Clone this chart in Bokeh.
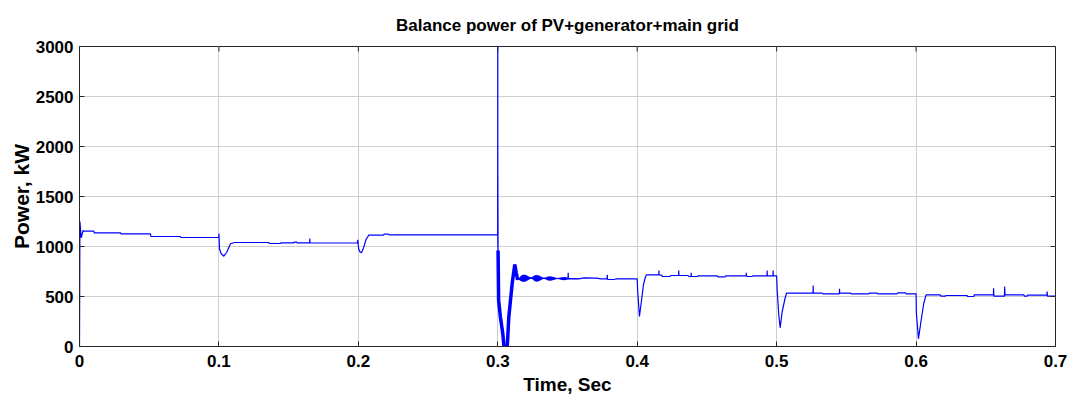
import math
from bokeh.plotting import figure
from bokeh.models import Range1d, FixedTicker
from bokeh.embed import file_html
from bokeh.resources import INLINE

# ---- Axis ticks -------------------------------------------------------------
x_ticks = [0, 0.1, 0.2, 0.3, 0.4, 0.5, 0.6, 0.7]
x_tick_labels = ["0", "0.1", "0.2", "0.3", "0.4", "0.5", "0.6", "0.7"]
y_ticks = [0, 500, 1000, 1500, 2000, 2500, 3000]
X_MAX = 0.7
Y_MAX = 3000

# ---- Balance power trace (time in s, power in kW), one array pair per stage --
# start-up, PV + generator
t_start = [0.0, 0.0003, 0.0012, 0.0026, 0.0031, 0.0103, 0.0106, 0.0294, 0.0297,
           0.0509, 0.0512, 0.0724, 0.0727, 0.0990]
p_start = [0, 1250, 1087, 1160, 1153, 1153, 1137, 1137, 1127,
           1127, 1100, 1100, 1090, 1090]

# load step at 0.1 s
t_step1 = [0.0999, 0.1000, 0.1004, 0.1015, 0.1035, 0.1055, 0.1083, 0.1112,
           0.1358, 0.1361, 0.1442, 0.1445, 0.1537, 0.1540, 0.1558, 0.1561,
           0.1651, 0.1652, 0.1653, 0.1992]
p_step1 = [1090, 1127, 977, 930, 903, 940, 1027, 1040,
           1040, 1030, 1030, 1037, 1037, 1043, 1043, 1037,
           1037, 1080, 1035, 1035]

# load step at 0.2 s
t_step2 = [0.1996, 0.2002, 0.2012, 0.2022, 0.2039, 0.2055, 0.2075, 0.2180,
           0.2184, 0.2216, 0.2220, 0.2999]
p_step2 = [1067, 977, 945, 937, 993, 1070, 1113, 1113,
           1123, 1123, 1117, 1117]

# main grid connection at 0.3 s: switching spike
t_switch = [0.30000, 0.30003, 0.30006, 0.30020]
p_switch = [3100, 1000, 1720, 960]

# deep undershoot after connection
t_dip = [0.30020, 0.3006, 0.3019, 0.3036, 0.3055, 0.3068, 0.3079, 0.3103,
         0.3122, 0.3132, 0.3142]
p_dip = [960, 460, 293, 127, -150, 0, 293, 627,
         820, 740, 667]

# settling after connection
t_settle = [0.3165, 0.3190, 0.3235, 0.3283, 0.3330, 0.3378, 0.3430, 0.3478,
            0.3504, 0.3505, 0.3506, 0.3580, 0.3620, 0.3710, 0.3740, 0.3784,
            0.3785, 0.3787, 0.3835, 0.3850, 0.3999]
p_settle = [682, 685, 684, 682, 681, 680, 680, 679,
            679, 737, 679, 677, 687, 684, 677, 677,
            717, 672, 670, 677, 677]

# load step at 0.4 s
t_step4 = [0.4000, 0.4003, 0.4010, 0.4016, 0.4030, 0.4045, 0.4060, 0.4067,
           0.4155, 0.4156, 0.4157, 0.4176, 0.4180, 0.4235, 0.4240, 0.4297,
           0.4298, 0.4299, 0.4365, 0.4370, 0.4386, 0.4387, 0.4388, 0.4430,
           0.4435, 0.4574, 0.4578, 0.4630, 0.4635, 0.4781, 0.4782, 0.4783,
           0.4790, 0.4824, 0.4828, 0.4931, 0.4932, 0.4933, 0.4974, 0.4975,
           0.4976, 0.4999]
p_step4 = [677, 560, 420, 300, 450, 620, 700, 717,
           717, 760, 717, 713, 700, 700, 710, 710,
           760, 710, 710, 700, 700, 737, 700, 700,
           707, 707, 697, 697, 707, 707, 737, 707,
           700, 700, 707, 707, 760, 707, 707, 760,
           707, 707]

# load step at 0.5 s
t_step5 = [0.5000, 0.5004, 0.5015, 0.5025, 0.5040, 0.5060, 0.5071, 0.5261,
           0.5262, 0.5263, 0.5326, 0.5330, 0.5450, 0.5451, 0.5452, 0.5530,
           0.5535, 0.5661, 0.5665, 0.5721, 0.5725, 0.5864, 0.5868, 0.5924,
           0.5928, 0.5999]
p_step5 = [707, 560, 320, 187, 350, 480, 533, 533,
           610, 533, 533, 527, 527, 577, 533, 533,
           527, 527, 533, 533, 527, 527, 537, 537,
           527, 527]

# load step at 0.6 s
t_step6 = [0.6000, 0.6002, 0.6017, 0.6035, 0.6055, 0.6072, 0.6175, 0.6178,
           0.6211, 0.6214, 0.6366, 0.6369, 0.6414, 0.6417, 0.6555, 0.6556,
           0.6558, 0.6634, 0.6635, 0.6638, 0.6773, 0.6776, 0.6797, 0.6800,
           0.6939, 0.6940, 0.6942, 0.7000]
p_step6 = [527, 343, 77, 250, 430, 517, 517, 503,
           503, 510, 510, 500, 500, 517, 517, 583,
           503, 503, 600, 517, 517, 503, 503, 513,
           513, 550, 503, 503]

# envelope of the fast oscillation right after connection
osc_t = [0.3141, 0.3151, 0.3170, 0.3190, 0.3210, 0.3235, 0.3247, 0.3265,
         0.3283, 0.3300, 0.3325, 0.3342, 0.3360, 0.3378, 0.3400, 0.3425,
         0.3440, 0.3460, 0.3480, 0.3500, 0.3525, 0.3550, 0.3580]
osc_hi = [668, 683, 713, 719, 711, 690, 694, 713,
          716, 707, 687, 689, 700, 703, 695, 685,
          688, 693, 696, 689, 683, 684, 679]
osc_lo = [668, 667, 651, 646, 657, 678, 674, 653,
          647, 657, 675, 673, 660, 657, 665, 675,
          672, 665, 662, 669, 673, 672, 675]

t_all = (t_start + t_step1 + t_step2 + t_switch + t_dip + t_settle
         + t_step4 + t_step5 + t_step6)
p_all = (p_start + p_step1 + p_step2 + p_switch + p_dip + p_settle
         + p_step4 + p_step5 + p_step6)

BLUE = "#0000ff"
INK = "#262626"
FONT = "Liberation Sans"

p = figure(width=1074, height=403, output_backend="svg", toolbar_location=None,
           x_range=Range1d(0, X_MAX), y_range=Range1d(0, Y_MAX),
           min_border_left=79, min_border_right=19,
           min_border_top=46, min_border_bottom=57,
           title="Balance power of PV+generator+main grid")

p.background_fill_color = "white"
p.border_fill_color = "white"
p.outline_line_color = INK
p.outline_line_width = 1

p.title.align = "center"
p.title.text_font = FONT
p.title.text_font_size = "17px"
p.title.text_font_style = "bold"
p.title.text_color = "black"
p.title.standoff = 24

# grid
p.xgrid.ticker = FixedTicker(ticks=x_ticks)
p.ygrid.ticker = FixedTicker(ticks=y_ticks)
for g in (p.xgrid[0], p.ygrid[0]):
    g.grid_line_color = "#cfcfcf"
    g.grid_line_width = 1

# traces
p.varea(x=osc_t, y1=osc_lo, y2=osc_hi, fill_color=BLUE)
p.line(t_all, p_all, line_color=BLUE, line_width=1.2)
p.line(t_dip, p_dip, line_color=BLUE, line_width=3.5)

# inward tick marks along the top and right edges of the box
p.ray(x=x_ticks, y=[Y_MAX] * len(x_ticks), length=5, length_units="screen",
      angle=-math.pi / 2, line_color=INK, line_width=1)
p.ray(x=[X_MAX] * len(y_ticks), y=y_ticks, length=5, length_units="screen",
      angle=math.pi, line_color=INK, line_width=1)

# axes
for ax, ticks in ((p.xaxis[0], x_ticks), (p.yaxis[0], y_ticks)):
    ax.ticker = FixedTicker(ticks=ticks)
    ax.major_label_text_font = FONT
    ax.major_label_text_font_size = "17px"
    ax.major_label_text_font_style = "bold"
    ax.major_label_text_color = "black"
    ax.axis_label_text_font = FONT
    ax.axis_label_text_font_style = "bold"
    ax.axis_label_text_color = "black"
    ax.major_tick_in = 5
    ax.major_tick_out = 0
    ax.minor_tick_in = 0
    ax.minor_tick_out = 0
    ax.axis_line_color = INK
    ax.major_tick_line_color = INK

p.xaxis[0].major_label_overrides = dict(zip(x_ticks, x_tick_labels))
p.xaxis[0].axis_label = "Time, Sec"
p.xaxis[0].axis_label_text_font_size = "19px"
p.xaxis[0].major_label_standoff = 8
p.xaxis[0].axis_label_standoff = 4
p.yaxis[0].axis_label = "Power, kW"
p.yaxis[0].axis_label_text_font_size = "21px"
p.yaxis[0].major_label_standoff = 6
p.yaxis[0].axis_label_standoff = 0

open("out.html", "w").write(file_html(p, INLINE))
